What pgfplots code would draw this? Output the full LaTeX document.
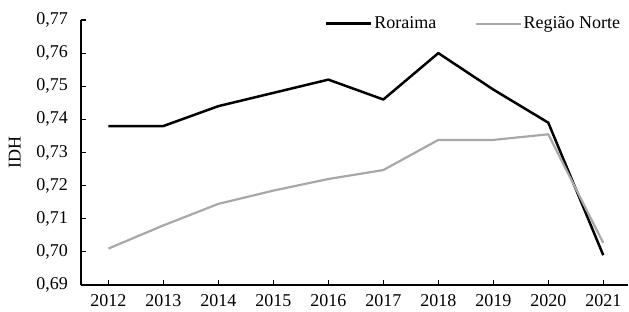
\documentclass[border=0pt]{standalone}
\usepackage{fontspec}
\setmainfont{Liberation Serif}
\usepackage{pgfplots}
\pgfplotsset{compat=1.18}
\definecolor{normgray}{RGB}{168,168,168}
\begin{document}
\fontsize{18bp}{21bp}\selectfont
\begin{tikzpicture}
\begin{axis}[
  name=ax,
  scale only axis,
  width=547bp, height=265bp,
  xmin=2011.5, xmax=2021.45,
  ymin=0.69, ymax=0.77,
  axis x line*=bottom, axis y line*=left,
  axis line style={line width=1.7bp, -},
  tick align=inside,
  major tick length=5bp,
  tick style={line width=1.2bp, black},
  xtick={2012,2013,...,2021},
  ytick={0.69,0.70,...,0.77},
  x tick label style={/pgf/number format/1000 sep={}, /pgf/number format/assume math mode=true, yshift=-3bp},
  y tick label style={/pgf/number format/use comma, /pgf/number format/fixed, /pgf/number format/fixed zerofill, /pgf/number format/precision=2, /pgf/number format/assume math mode=true, xshift=-7bp},
  ylabel={IDH},
  ylabel style={at={(axis description cs:-0.121,0.5)}, anchor=center, rotate=0},
  legend style={draw=none, fill=none, at={(axis description cs:0.995,1.03)}, anchor=north east,
    /tikz/every even column/.append style={column sep=36bp}, font=\fontsize{18bp}{21bp}\selectfont},
  legend columns=2,
  legend image code/.code={\draw[#1] (0bp,0bp) -- (45bp,0bp);},
  clip=false,
]
\addplot[black, line width=2.5bp, line join=round] coordinates {
(2012,0.738) (2013,0.738) (2014,0.744) (2015,0.748) (2016,0.752) (2017,0.746) (2018,0.760) (2019,0.749) (2020,0.739) (2021,0.699)};
\addlegendentry{Roraima}
\addplot[normgray, line width=2.2bp, line join=round] coordinates {
(2012,0.701) (2013,0.708) (2014,0.7145) (2015,0.7185) (2016,0.722) (2017,0.7247) (2018,0.7338) (2019,0.7338) (2020,0.7355) (2021,0.7027)};
\addlegendentry{Região Norte}
\end{axis}
\pgfresetboundingbox
\useasboundingbox (ax.south west) ++(-81bp,-27bp) rectangle ++(629bp,312bp);
\end{tikzpicture}
\end{document}
